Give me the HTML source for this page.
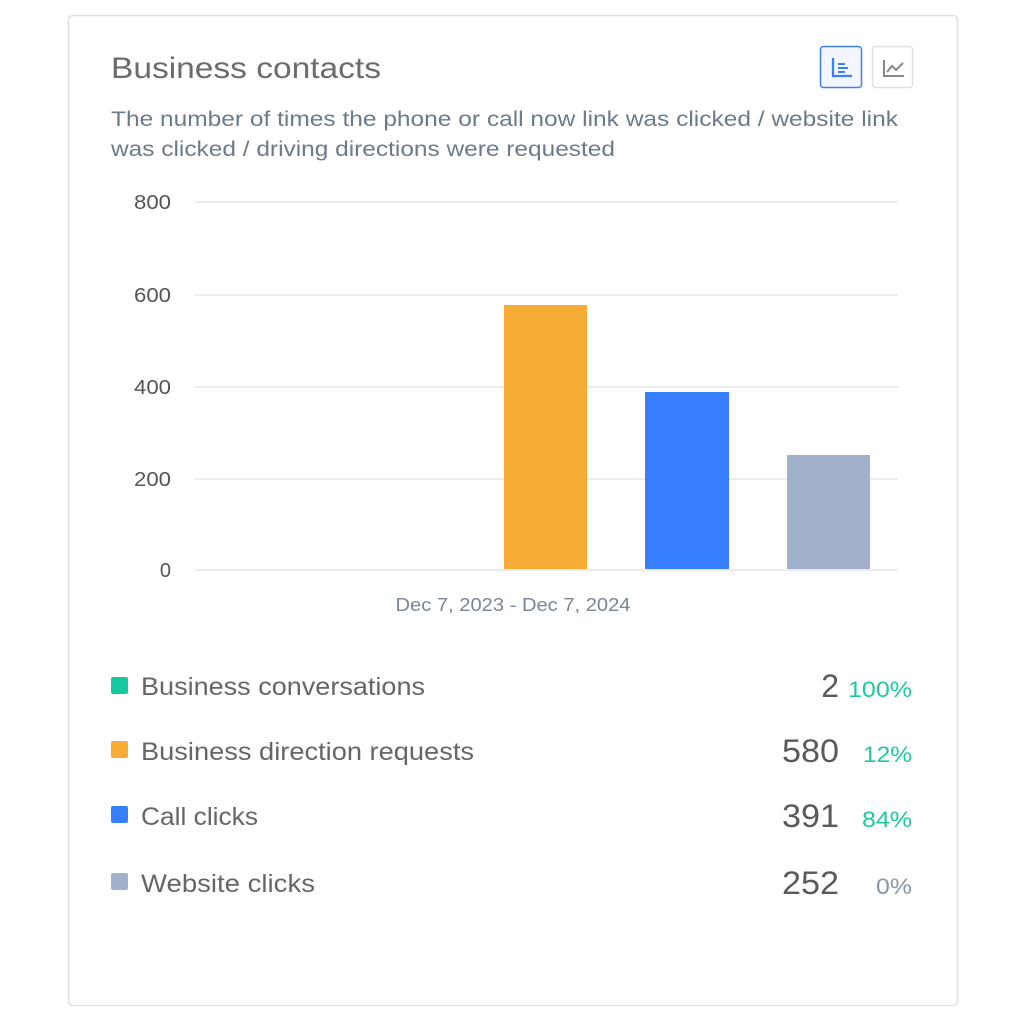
<!DOCTYPE html>
<html><head><meta charset="utf-8"><style>
html,body{margin:0;padding:0;background:#fff;}
svg{display:block;}
text{font-family:"Liberation Sans",sans-serif;}
</style></head><body>
<svg width="1024" height="1024" viewBox="0 0 1024 1024" xmlns="http://www.w3.org/2000/svg">
<rect x="0" y="0" width="1024" height="1024" fill="#fff"/>
<rect x="68.5" y="15.5" width="889" height="990" rx="4" fill="#fff" stroke="#dde1e6" stroke-width="1.5"/>
<text x="111" y="78" font-size="30" fill="#6b6b6b" textLength="270" lengthAdjust="spacingAndGlyphs">Business contacts</text>
<rect x="820.5" y="46.5" width="41" height="41" rx="3" fill="#f3f6fc" stroke="#3a7ff6" stroke-width="1.5"/>
<path d="M833 58 V76 H852" fill="none" stroke="#3a7ff6" stroke-width="2.2"/>
<path d="M838 64 H845 M838 68 H848 M838 72 H845" fill="none" stroke="#3a7ff6" stroke-width="2"/>
<rect x="872.5" y="46.5" width="40" height="41" rx="3" fill="#fff" stroke="#dde1e6" stroke-width="1.5"/>
<path d="M884 60 V76 H904" fill="none" stroke="#888" stroke-width="2"/>
<path d="M887 72 L892 66 L896 70 L903 63" fill="none" stroke="#888" stroke-width="2"/>
<text x="111" y="126" font-size="21" fill="#6c7a89" textLength="787" lengthAdjust="spacingAndGlyphs">The number of times the phone or call now link was clicked / website link</text>
<text x="111" y="156" font-size="21" fill="#6c7a89" textLength="504" lengthAdjust="spacingAndGlyphs">was clicked / driving directions were requested</text>
<g stroke="#e3e5e8" stroke-width="1.5">
<line x1="195" y1="202" x2="898" y2="202"/>
<line x1="195" y1="295" x2="898" y2="295"/>
<line x1="195" y1="387" x2="898" y2="387"/>
<line x1="195" y1="479" x2="898" y2="479"/>
<line x1="195" y1="570" x2="898" y2="570"/>
</g>
<g font-size="20" fill="#555" text-anchor="end">
<text x="171" y="209" textLength="37" lengthAdjust="spacingAndGlyphs">800</text>
<text x="171" y="302" textLength="37" lengthAdjust="spacingAndGlyphs">600</text>
<text x="171" y="394" textLength="37" lengthAdjust="spacingAndGlyphs">400</text>
<text x="171" y="486" textLength="37" lengthAdjust="spacingAndGlyphs">200</text>
<text x="171" y="577">0</text>
</g>
<rect x="504" y="305" width="83" height="264" fill="#f7ac35"/>
<rect x="645" y="392" width="84" height="177" fill="#377efe"/>
<rect x="787" y="455" width="83" height="114" fill="#a2b1cb"/>
<text x="513" y="611" font-size="18" fill="#7a8594" text-anchor="middle" textLength="235" lengthAdjust="spacingAndGlyphs">Dec 7, 2023 - Dec 7, 2024</text>
<rect x="111" y="677" width="17" height="17" rx="2" fill="#14c8a1"/>
<rect x="111" y="741" width="17" height="17" rx="2" fill="#f7ac35"/>
<rect x="111" y="806" width="17" height="17" rx="2" fill="#377efe"/>
<rect x="111" y="873" width="17" height="17" rx="2" fill="#a2b1cb"/>
<g font-size="25" fill="#666">
<text x="141" y="695" textLength="284" lengthAdjust="spacingAndGlyphs">Business conversations</text>
<text x="141" y="760" textLength="333" lengthAdjust="spacingAndGlyphs">Business direction requests</text>
<text x="141" y="825" textLength="117" lengthAdjust="spacingAndGlyphs">Call clicks</text>
<text x="141" y="892" textLength="174" lengthAdjust="spacingAndGlyphs">Website clicks</text>
</g>
<g font-size="32" fill="#5a5a5a" text-anchor="end">
<text x="839" y="697">2</text>
<text x="839" y="762" textLength="57" lengthAdjust="spacingAndGlyphs">580</text>
<text x="839" y="827" textLength="57" lengthAdjust="spacingAndGlyphs">391</text>
<text x="839" y="894" textLength="57" lengthAdjust="spacingAndGlyphs">252</text>
</g>
<g font-size="22" text-anchor="end">
<text x="912" y="697" fill="#1ec8a0" textLength="64" lengthAdjust="spacingAndGlyphs">100%</text>
<text x="912" y="762" fill="#1ec8a0" textLength="49" lengthAdjust="spacingAndGlyphs">12%</text>
<text x="912" y="827" fill="#1ec8a0" textLength="50" lengthAdjust="spacingAndGlyphs">84%</text>
<text x="912" y="894" fill="#8a95a3" textLength="36" lengthAdjust="spacingAndGlyphs">0%</text>
</g>
</svg>
</body></html>
